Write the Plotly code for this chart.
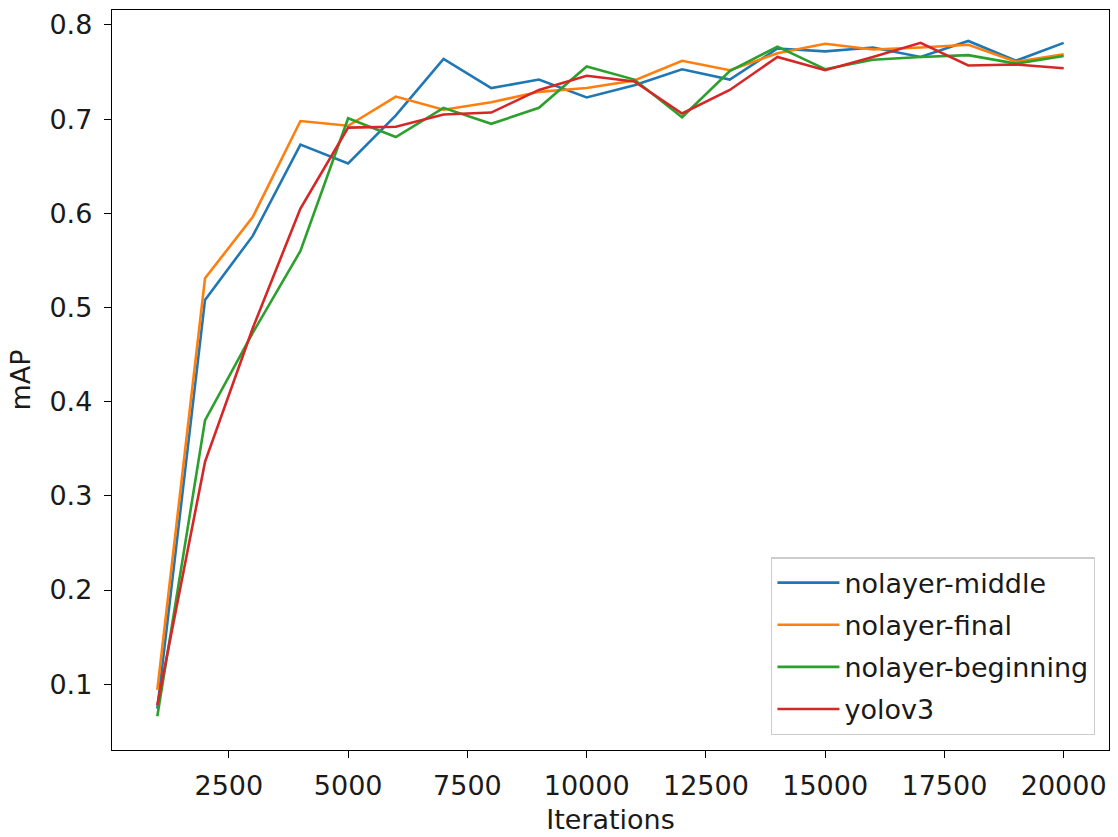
import plotly.graph_objects as go

iterations = [1000, 2000, 3000, 4000, 5000, 6000, 7000, 8000, 9000, 10000,
              11000, 12000, 13000, 14000, 15000, 16000, 17000, 18000, 19000, 20000]

nolayer_middle = [0.074, 0.508, 0.576, 0.673, 0.653, 0.704, 0.764, 0.733, 0.742, 0.723,
                  0.736, 0.753, 0.742, 0.775, 0.772, 0.776, 0.766, 0.783, 0.762, 0.781]
nolayer_final = [0.094, 0.531, 0.596, 0.698, 0.693, 0.724, 0.710, 0.718, 0.729, 0.733,
                 0.741, 0.762, 0.752, 0.770, 0.780, 0.774, 0.776, 0.779, 0.761, 0.769]
nolayer_beginning = [0.066, 0.380, 0.473, 0.560, 0.701, 0.681, 0.712, 0.695, 0.712, 0.756,
                     0.742, 0.702, 0.751, 0.777, 0.753, 0.763, 0.766, 0.768, 0.759, 0.767]
yolov3 = [0.078, 0.336, 0.478, 0.605, 0.691, 0.692, 0.705, 0.707, 0.731, 0.746,
          0.740, 0.706, 0.731, 0.766, 0.752, 0.766, 0.781, 0.757, 0.758, 0.754]

series = [
    ("nolayer-middle", nolayer_middle, "#1f77b4"),
    ("nolayer-final", nolayer_final, "#ff7f0e"),
    ("nolayer-beginning", nolayer_beginning, "#2ca02c"),
    ("yolov3", yolov3, "#d62728"),
]

x_ticks = [2500, 5000, 7500, 10000, 12500, 15000, 17500, 20000]
y_ticks = [0.1, 0.2, 0.3, 0.4, 0.5, 0.6, 0.7, 0.8]

fig = go.Figure()
for name, vals, col in series:
    fig.add_trace(go.Scatter(x=iterations, y=vals, mode="lines", name=name,
                             legendgroup=name,
                             line=dict(color=col, width=2.6)))

font = dict(family="DejaVu Sans", size=27, color="#1a1a1a")
axis_common = dict(showline=True, linecolor="black", linewidth=1.4, mirror=True,
                   ticks="outside", ticklen=7, tickwidth=1.4, tickcolor="black",
                   showgrid=False, zeroline=False, tickfont=font)

fig.update_layout(
    width=1118, height=837,
    margin=dict(l=112, r=8, t=10, b=85),
    plot_bgcolor="white", paper_bgcolor="white",
    font=font,
    xaxis=dict(range=[50, 20950], tickvals=x_ticks,
               ticktext=[str(v) for v in x_ticks],
               ticklabelstandoff=4,
               title=dict(text="Iterations", font=font, standoff=10),
               **axis_common),
    yaxis=dict(range=[0.0301, 0.8159], tickvals=y_ticks,
               ticktext=[f"{v:.1f}" for v in y_ticks],
               ticklabelstandoff=6,
               title=dict(text="mAP", font=font, standoff=10),
               **axis_common),
    legend=dict(x=0.986, y=0.02, xanchor="right", yanchor="bottom",
                bgcolor="rgba(255,255,255,0.8)", bordercolor="#cccccc", borderwidth=1.4,
                font=font, tracegroupgap=4, itemwidth=62),
    showlegend=True,
)

fig.write_html("out.html")
